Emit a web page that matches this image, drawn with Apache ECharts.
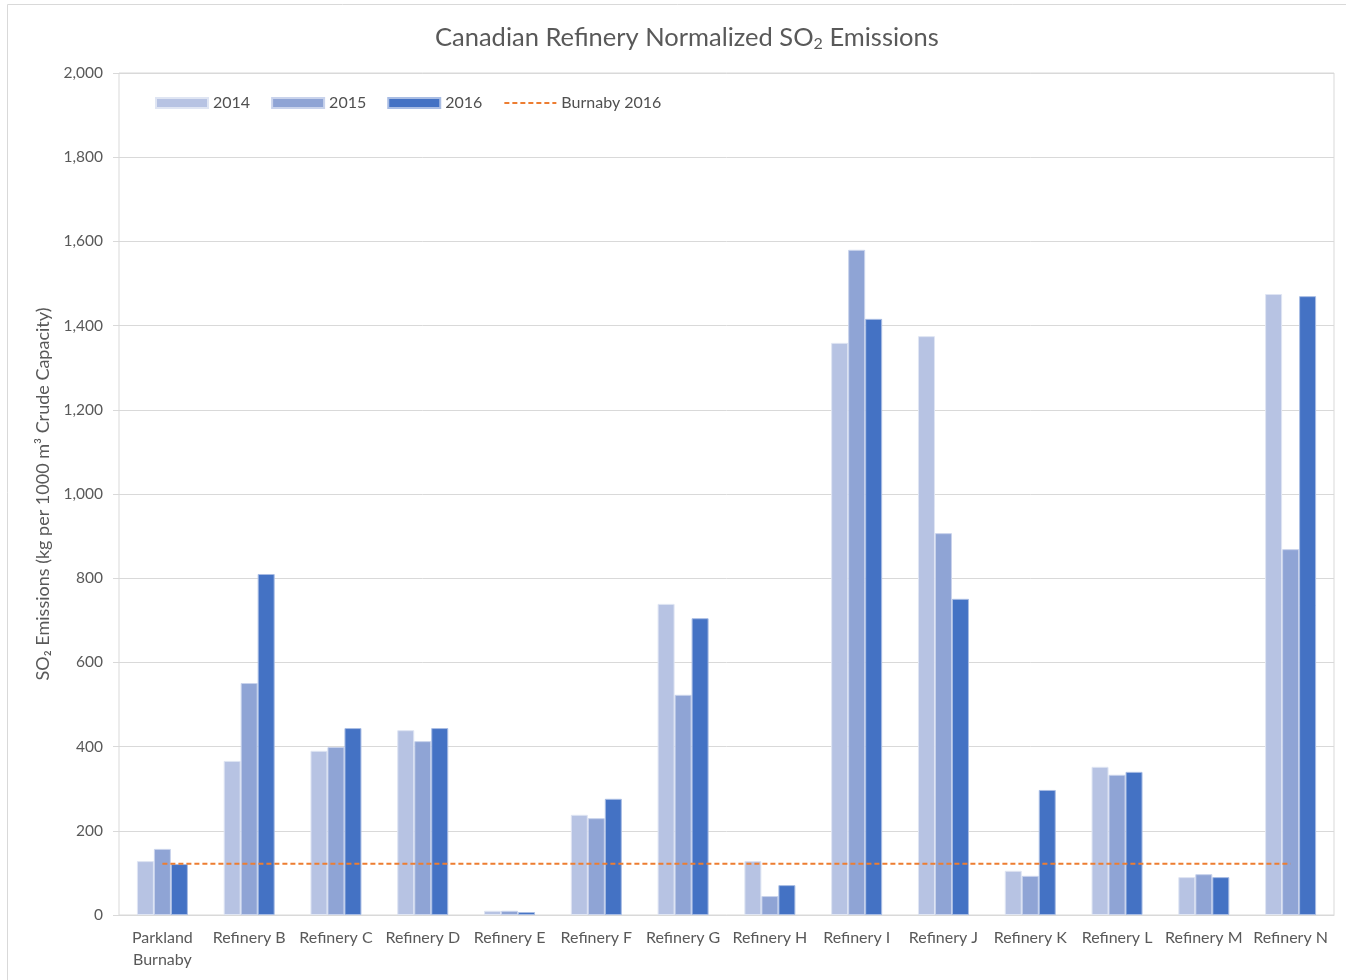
<!DOCTYPE html>
<html><head><meta charset="utf-8">
<script src="https://cdn.jsdelivr.net/npm/echarts@6/dist/echarts.min.js"></script>
<style>html,body{margin:0;padding:0;background:#fff}#c{width:1346px;height:980px}</style>
</head><body><div id="c"></div>
<script>
const categories = ['Parkland\nBurnaby','Refinery B','Refinery C','Refinery D','Refinery E','Refinery F','Refinery G','Refinery H','Refinery I','Refinery J','Refinery K','Refinery L','Refinery M','Refinery N'];
const s2014 = [128, 366, 390, 439, 10, 238, 739, 128, 1359, 1375, 105, 352, 90, 1475];
const s2015 = [157, 551, 399, 413, 10, 230, 523, 45, 1580, 907, 93, 333, 97, 869];
const s2016 = [121, 810, 444, 444, 7, 276, 705, 71, 1416, 751, 297, 340, 90, 1470];
const burnaby2016 = 122;
const burnabyLine = categories.map(() => burnaby2016);
const yTicks = {min: 0, max: 2000, interval: 200};

const FONT = 'Lato';
const chart = echarts.init(document.getElementById('c'));
chart.setOption({
  animation: false,
  textStyle: {fontFamily: FONT},
  graphic: [{type: 'rect', shape: {x: 7.5, y: 4.5, width: 1345, height: 985}, style: {fill: 'none', stroke: '#d9d9d9', lineWidth: 1}}],
  title: {
    text: '{a|Canadian Refinery Normalized SO}{s|2}{a| Emissions}',
    left: 430, top: 18,
    textStyle: {rich: {
      a: {fontFamily: FONT, fontSize: 25.5, color: '#595959', fontWeight: 'normal'},
      s: {fontFamily: FONT, fontSize: 16, color: '#595959', fontWeight: 'normal', verticalAlign: 'bottom', padding: [13, 0, 0, 0]}
    }}
  },
  legend: {
    left: 150, top: 90, itemGap: 21, itemWidth: 52, itemHeight: 10,
    textStyle: {fontSize: 16, color: '#505050', fontFamily: FONT},
    data: [
      {name: '2014', icon: 'rect'},
      {name: '2015', icon: 'rect'},
      {name: '2016', icon: 'rect'},
      {name: 'Burnaby 2016', itemStyle: {opacity: 0}}
    ]
  },
  grid: {left: 119, right: 12, top: 73, bottom: 65, show: true, borderColor: '#d9d9d9', borderWidth: 1},
  xAxis: {
    type: 'category', data: categories,
    axisLine: {lineStyle: {color: '#d9d9d9'}},
    axisTick: {show: false},
    axisLabel: {color: '#595959', fontSize: 16, margin: 12, lineHeight: 22, interval: 0, fontFamily: FONT}
  },
  yAxis: {
    type: 'value', min: yTicks.min, max: yTicks.max, interval: yTicks.interval,
    name: 'SO₂ Emissions (kg per 1000 m³ Crude Capacity)',
    nameLocation: 'middle', nameGap: 63, nameRotate: 90,
    nameTextStyle: {color: '#595959', fontSize: 18, fontFamily: FONT},
    axisLine: {show: false},
    axisTick: {show: true, length: 6, lineStyle: {color: '#d9d9d9'}},
    splitLine: {lineStyle: {color: '#d9d9d9'}},
    axisLabel: {color: '#595959', fontSize: 15.5, margin: 16, fontFamily: FONT,
      formatter: v => v.toLocaleString('en-US')}
  },
  series: [
    {name: '2014', type: 'bar', data: s2014, barWidth: 17, barGap: '0%',
      itemStyle: {color: '#b7c3e3', borderColor: '#dfe5f3', borderWidth: 1}},
    {name: '2015', type: 'bar', data: s2015, barWidth: 17, barGap: '0%',
      itemStyle: {color: '#8fa4d5', borderColor: '#c9d3ec', borderWidth: 1}},
    {name: '2016', type: 'bar', data: s2016, barWidth: 17, barGap: '0%',
      itemStyle: {color: '#4472c4', borderColor: '#a9bde4', borderWidth: 1}},
    {name: 'Burnaby 2016', type: 'line', data: burnabyLine, symbol: 'none', z: 5,
      lineStyle: {color: '#ed7d31', width: 2, type: [5, 3]},
      itemStyle: {color: '#ed7d31'}}
  ]
});
</script></body></html>
